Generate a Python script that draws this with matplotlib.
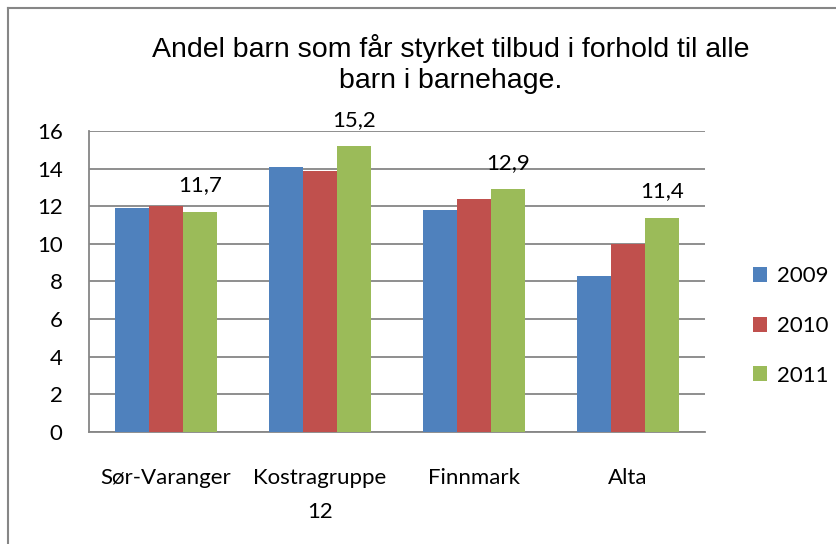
import numpy as np
import matplotlib.pyplot as plt
from matplotlib.lines import Line2D

# data
kategorier = ['Sør-Varanger', 'Kostragruppe\n12', 'Finnmark', 'Alta']
aar = ['2009', '2010', '2011']
v2009 = [11.9, 14.1, 11.8, 8.3]
v2010 = [12.0, 13.9, 12.4, 10.0]
v2011 = [11.7, 15.2, 12.9, 11.4]
farger = ['#4F81BD', '#C0504D', '#9BBB59']

fig = plt.figure(figsize=(8.37, 5.44), dpi=100)
ax = fig.add_axes([0.1063, 0.2059, 0.736, 0.5533])

x = np.arange(len(kategorier))
b = 0.22
for i, (verdier, farge) in enumerate(zip([v2009, v2010, v2011], farger)):
    ax.bar(x + (i - 1) * b, verdier, b, color=farge, label=aar[i], zorder=3)

# bare 2011 har dataetiketter
for xi, v in zip(x, v2011):
    ax.text(xi + b, v + 1.4, f'{v:.1f}'.replace('.', ','), ha='center', va='center',
            fontsize=16, family='Lato')

ax.set_xlim(-0.5, 3.5)
ax.set_ylim(0, 16)
ax.set_yticks(np.arange(0, 17, 2))
ax.yaxis.grid(True, color='#868686', lw=1.3, zorder=0)
ax.set_xticks(x)
ax.set_xticklabels(kategorier, fontsize=16, family='Lato', linespacing=1.85, va='top')
ax.tick_params(axis='x', length=0, pad=26)
ax.tick_params(axis='y', length=0, pad=19, labelsize=16)
for t in ax.get_yticklabels():
    t.set_family('Lato')
for s in ['top', 'right']:
    ax.spines[s].set_visible(False)
for s in ['left', 'bottom']:
    ax.spines[s].set_color('#868686')
    ax.spines[s].set_linewidth(1.3)

fig.text(0.538, 0.882, 'Andel barn som får styrket tilbud i forhold til alle\nbarn i barnehage.',
         ha='center', va='center', fontsize=20.5, family='Liberation Sans', linespacing=1.25)

leg = ax.legend(loc='center left', bbox_to_anchor=(1.045, 0.352), frameon=False,
                handlelength=0.65, handleheight=0.65, labelspacing=1.33, handletextpad=0.45,
                prop={'family': 'Lato', 'size': 16})

# ramme rundt diagrammet
fig.add_artist(Line2D([0.0096, 0.0096], [0, 0.985], color='#868686', lw=1.5))
fig.add_artist(Line2D([0.0096, 1], [0.985, 0.985], color='#868686', lw=1.5))

fig.savefig('out.png', dpi=100)
